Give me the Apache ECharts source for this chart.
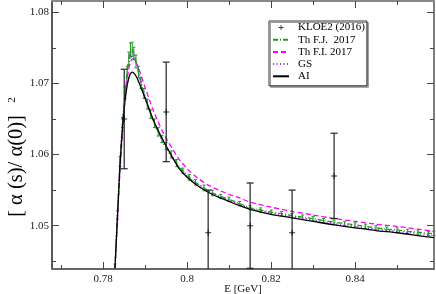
<!DOCTYPE html>
<html><head><meta charset="utf-8">
<script src="https://cdn.jsdelivr.net/npm/echarts@6/dist/echarts.min.js"></script>
<style>html,body{margin:0;padding:0;background:#fff}#c{width:436px;height:294px}</style>
</head><body><div id="c"></div>
<script>
// axis ranges and tick values
const xMin = 0.7678, xMax = 0.8588, yMin = 1.0439, yMax = 1.0816;
const xMajor = [0.78, 0.8, 0.82, 0.84];
const xMinor = [0.77, 0.79, 0.81, 0.83, 0.85];
const yMajor = [1.05, 1.06, 1.07, 1.08];
const yMinor = [1.045, 1.055, 1.065, 1.075];

// KLOE2 (2016) data
const kloeE   = [0.785, 0.795, 0.805, 0.815, 0.825, 0.835];
const kloeVal = [1.065, 1.066, 1.049, 1.050, 1.049, 1.057];
const kloeErr = [0.007, 0.007, 0.006, 0.006, 0.006, 0.006];

// Th F.J. 2017 (green, with errors)
const fjE = [0.7828,0.7834,0.7840,0.7846,0.7852,0.7857,0.7861,0.7865,0.7869,0.7873,0.7878,0.7884,0.7890,0.7897,0.7905,0.7913,0.7922,0.7931,0.7940,0.7950,0.7962,0.7975,0.7990,0.8005,0.8020,0.8040,0.8060,0.8080,0.8100,0.8125,0.8150,0.8175,0.8200,0.8225,0.8250,0.8275,0.8300,0.8325,0.8350,0.8375,0.8400,0.8425,0.8450,0.8475,0.8500,0.8525,0.8550,0.8575,0.8588];
const fjVal = [1.0440,1.0515,1.0590,1.0645,1.0687,1.0716,1.0735,1.0747,1.0748,1.0742,1.0731,1.0716,1.0701,1.0686,1.0671,1.0657,1.0644,1.0632,1.0622,1.0612,1.0600,1.0588,1.0577,1.0568,1.0561,1.0553,1.0546,1.0541,1.0537,1.0531,1.0525,1.0522,1.0519,1.0517,1.0514,1.0512,1.0510,1.0507,1.0505,1.0503,1.0501,1.0499,1.0497,1.0495,1.0494,1.0492,1.0491,1.0489,1.0489];
const fjErr = [0.0006,0.0006,0.0007,0.0007,0.0008,0.0008,0.0009,0.0010,0.0010,0.0009,0.0009,0.0008,0.0008,0.0007,0.0007,0.0006,0.0006,0.0006,0.0005,0.0005,0.0005,0.0005,0.0004,0.0004,0.0004,0.0004,0.0004,0.0003,0.0003,0.0003,0.0003,0.0003,0.0003,0.0003,0.0003,0.0003,0.0003,0.0003,0.0003,0.0003,0.0003,0.0003,0.0003,0.0003,0.0003,0.0003,0.0003,0.0003,0.0003];

// Th F.I. 2017 (magenta dashed)
const fiE = [0.7828,0.7834,0.7840,0.7846,0.7852,0.7858,0.7864,0.7870,0.7876,0.7884,0.7892,0.7900,0.7910,0.7920,0.7930,0.7940,0.7950,0.7965,0.7980,0.8000,0.8025,0.8050,0.8075,0.8100,0.8125,0.8150,0.8200,0.8250,0.8300,0.8350,0.8400,0.8450,0.8500,0.8550,0.8588];
const fiVal = [1.0440,1.0510,1.0578,1.0632,1.0677,1.0710,1.0729,1.0735,1.0732,1.0722,1.0708,1.0694,1.0677,1.0661,1.0647,1.0634,1.0623,1.0608,1.0594,1.0580,1.0567,1.0557,1.0550,1.0544,1.0539,1.0533,1.0526,1.0520,1.0515,1.0510,1.0506,1.0502,1.0499,1.0495,1.0492];

// GS (purple dotted)
const gsE = [0.7828,0.7834,0.7840,0.7846,0.7852,0.7858,0.7862,0.7866,0.7870,0.7875,0.7882,0.7890,0.7900,0.7910,0.7920,0.7930,0.7940,0.7950,0.7965,0.7980,0.8000,0.8025,0.8050,0.8075,0.8100,0.8125,0.8150,0.8200,0.8250,0.8300,0.8350,0.8400,0.8450,0.8500,0.8550,0.8588];
const gsVal = [1.0440,1.0514,1.0588,1.0642,1.0684,1.0716,1.0732,1.0743,1.0744,1.0737,1.0723,1.0700,1.0680,1.0662,1.0646,1.0632,1.0620,1.0609,1.0595,1.0582,1.0569,1.0558,1.0549,1.0542,1.0536,1.0530,1.0524,1.0518,1.0513,1.0508,1.0503,1.0499,1.0495,1.0492,1.0489,1.0486];

// AI (black solid)
const aiE = [0.7828,0.7834,0.7840,0.7846,0.7852,0.7858,0.7864,0.7869,0.7875,0.7882,0.7890,0.7900,0.7910,0.7920,0.7930,0.7940,0.7950,0.7965,0.7980,0.8000,0.8025,0.8050,0.8075,0.8100,0.8125,0.8150,0.8200,0.8250,0.8300,0.8350,0.8400,0.8450,0.8500,0.8550,0.8588];
const aiVal = [1.0440,1.0513,1.0585,1.0638,1.0676,1.0700,1.0713,1.0716,1.0713,1.0706,1.0694,1.0679,1.0663,1.0648,1.0635,1.0623,1.0612,1.0596,1.0581,1.0568,1.0556,1.0547,1.0540,1.0534,1.0528,1.0523,1.0516,1.0511,1.0506,1.0501,1.0497,1.0493,1.0490,1.0486,1.0483];

const zip = (a, b, c) => a.map((v, i) => c ? [v, b[i], c[i]] : [v, b[i]]);
const SERIF = '"Liberation Serif", "DejaVu Serif", serif';
const HIDE = { color: 'rgba(0,0,0,0)', borderWidth: 0, borderColor: 'rgba(0,0,0,0)' };
const PLUS_ICON = 'path://M3,5.5H9V6.5H3ZM5.5,3H6.5V9H5.5ZM0,0H0.01V0.01H0ZM12,12H11.99V11.99H12Z';

function errBars(color, capW, lw) {
  return function (params, api) {
    const x = api.value(0), y = api.value(1), e = api.value(2);
    const hi = Math.min(y + e, yMax), lo = Math.max(y - e, yMin);
    const t = api.coord([x, hi]), b = api.coord([x, lo]);
    const st = { stroke: color, lineWidth: lw };
    const ch = [{ type: 'line', shape: { x1: t[0], y1: t[1], x2: b[0], y2: b[1] }, style: st }];
    if (y + e <= yMax) ch.push({ type: 'line', shape: { x1: t[0] - capW / 2, y1: t[1], x2: t[0] + capW / 2, y2: t[1] }, style: st });
    if (y - e >= yMin) ch.push({ type: 'line', shape: { x1: b[0] - capW / 2, y1: b[1], x2: b[0] + capW / 2, y2: b[1] }, style: st });
    return { type: 'group', children: ch };
  };
}

function xAx(pos, ticks, len, labels, line) {
  return {
    type: 'value', position: pos, min: xMin, max: xMax, gridIndex: 0,
    splitLine: { show: false },
    axisLine: { show: line, lineStyle: { color: pos === 'bottom' ? '#666' : '#888', width: 2 } },
    axisTick: { show: true, inside: true, length: len, customValues: ticks, lineStyle: { color: '#444', width: 1 } },
    axisLabel: labels ? { show: true, customValues: ticks, margin: 5, fontFamily: SERIF, fontSize: 11, color: '#222', formatter: v => String(+v.toFixed(4)) } : { show: false },
    name: labels && pos === 'bottom' ? 'E [GeV]' : '',
    nameLocation: 'middle', nameGap: 15, nameMoveOverlap: false,
    nameTextStyle: { fontFamily: SERIF, fontSize: 11, color: '#111' }
  };
}
function yAx(pos, ticks, len, labels, line) {
  return {
    type: 'value', position: pos, min: yMin, max: yMax, gridIndex: 0,
    splitLine: { show: false },
    axisLine: { show: line, lineStyle: { color: pos === 'left' ? '#222' : '#555', width: 1.5 } },
    axisTick: { show: true, inside: true, length: len, customValues: ticks, lineStyle: { color: '#444', width: 1 } },
    axisLabel: labels ? { show: true, customValues: ticks, margin: 3, fontFamily: SERIF, fontSize: 11, color: '#222', formatter: v => v.toFixed(2) } : { show: false }
  };
}

const chart = echarts.init(document.getElementById('c'), null, { renderer: 'canvas' });
chart.setOption({
  animation: false,
  backgroundColor: '#fff',
  grid: { left: 52, right: 2, top: 1, bottom: 25, containLabel: false, outerBoundsMode: 'none' },
  xAxis: [
    xAx('bottom', xMinor, 4, false, true),
    xAx('bottom', xMajor, 7, true, false),
    xAx('top', xMinor, 4, false, true),
    xAx('top', xMajor, 7, false, false)
  ],
  yAxis: [
    yAx('left', yMinor, 4, false, true),
    yAx('left', yMajor, 7, true, false),
    yAx('right', yMinor, 4, false, true),
    yAx('right', yMajor, 7, false, false)
  ],
  legend: {
    orient: 'vertical', left: 269, top: 21,
    padding: [1, 2, 4, 3], itemGap: 1.2, itemWidth: 16, itemHeight: 10,
    backgroundColor: '#fff', borderColor: '#333', borderWidth: 1,
    shadowColor: '#999', shadowOffsetX: 1.5, shadowOffsetY: 1.5, shadowBlur: 0,
    textStyle: { fontFamily: SERIF, fontSize: 11, color: '#000', lineHeight: 11, padding: [0, 0, 0, 4] },
    data: [
      { name: 'KLOE2 (2016)', icon: PLUS_ICON, itemStyle: { color: '#000' } },
      { name: 'Th F.J.  2017', itemStyle: HIDE },
      { name: 'Th F.I. 2017', itemStyle: HIDE },
      { name: 'GS', itemStyle: HIDE },
      { name: 'AI', itemStyle: HIDE }
    ]
  },
  graphic: [
    { type: 'text', x: 17, y: 166, rotation: Math.PI / 2,
      style: { text: '[ α (s)/ α(0)]', fontFamily: SERIF, fontSize: 20.5, fill: '#000', align: 'center', verticalAlign: 'middle' } },
    { type: 'text', x: 12, y: 100, rotation: Math.PI / 2,
      style: { text: '2', fontFamily: SERIF, fontSize: 11, fill: '#000', align: 'center', verticalAlign: 'middle' } }
  ],
  series: [
    { name: 'GS', type: 'line', data: zip(gsE, gsVal), showSymbol: false, symbol: 'none', smooth: 0.2,
      lineStyle: { color: '#a020f0', width: 1.6, type: [1, 2.5] }, itemStyle: { color: '#a020f0' } },
    { name: 'Th F.I. 2017', type: 'line', data: zip(fiE, fiVal), showSymbol: false, symbol: 'none', smooth: 0.2,
      lineStyle: { color: '#ff00ff', width: 1.3, type: [5, 3] }, itemStyle: { color: '#ff00ff' } },
    { name: 'Th F.J.  2017', type: 'line', data: zip(fjE, fjVal), showSymbol: false, symbol: 'none', smooth: 0.2,
      lineStyle: { color: '#1f9a1f', width: 1.3, type: [5, 2, 1, 2] }, itemStyle: { color: '#1f9a1f' } },
    { type: 'custom', data: zip(fjE, fjVal, fjErr), renderItem: errBars('#1f9a1f', 3, 1), z: 3 },
    { name: 'AI', type: 'line', data: zip(aiE, aiVal), showSymbol: false, symbol: 'none', smooth: 0.2,
      lineStyle: { color: '#000', width: 1.3 }, itemStyle: { color: '#000' }, z: 4 },
    { type: 'custom', data: zip(kloeE, kloeVal, kloeErr), renderItem: errBars('#222', 7, 1.2), z: 5 },
    { name: 'KLOE2 (2016)', type: 'scatter', data: zip(kloeE, kloeVal), symbol: 'path://M0,2.5H6V3.5H0ZM2.5,0H3.5V6H2.5Z',
      symbolSize: 6, itemStyle: { color: '#000' }, z: 6 }
  ]
});
</script></body></html>
